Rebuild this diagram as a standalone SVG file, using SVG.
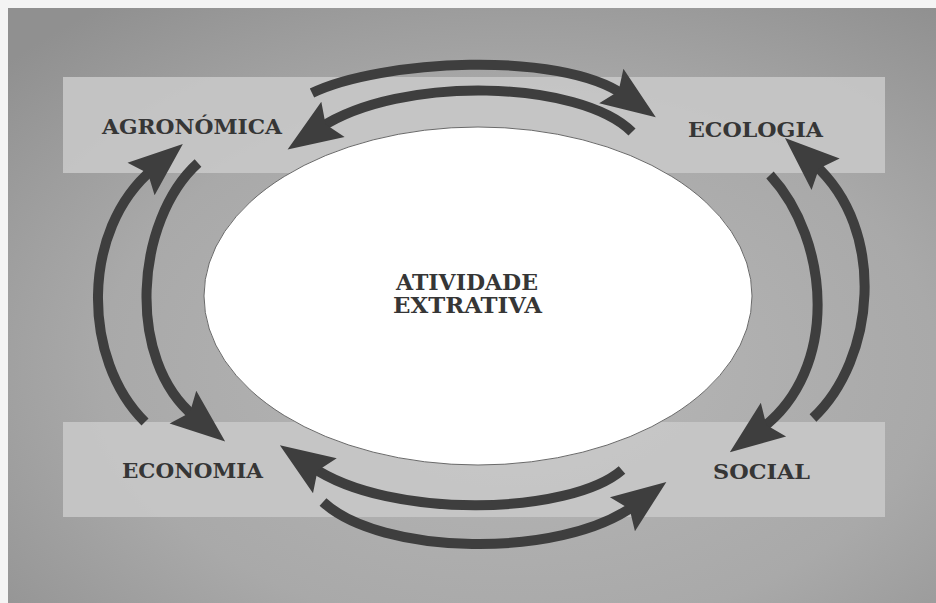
<svg xmlns="http://www.w3.org/2000/svg" width="936" height="603" viewBox="0 0 936 603">
  <defs>
    <radialGradient id="bg" cx="0.55" cy="0.6" r="0.75">
      <stop offset="0" stop-color="#b8b8b8"/>
      <stop offset="0.6" stop-color="#a9a9a9"/>
      <stop offset="1" stop-color="#909090"/>
    </radialGradient>
    <marker id="head" markerUnits="userSpaceOnUse" markerWidth="60" markerHeight="50" viewBox="-16 -22 54 44" refX="0" refY="0" orient="auto">
      <path d="M35,0 L-14,-19 L-6,0 L-14,19 Z" fill="#3e3e3e"/>
    </marker>
  </defs>
  <style>
    .band { fill: #c8c8c8; opacity: 0.9; }
    .lbl { font-family: "DejaVu Serif", "Liberation Serif", serif; font-weight: bold; font-size: 20px; fill: #363636; text-anchor: middle; }
    .ctr { font-family: "DejaVu Serif", "Liberation Serif", serif; font-weight: bold; font-size: 21.5px; fill: #363636; text-anchor: middle; }
    .arr { fill: none; stroke: #3e3e3e; stroke-width: 10; stroke-linecap: butt; marker-end: url(#head); }
  </style>
  <rect x="0" y="0" width="936" height="603" fill="#f4f4f4"/>
  <rect x="8" y="8" width="928" height="595" fill="url(#bg)"/>
  <rect class="band" x="63" y="77" width="822" height="96"/>
  <rect class="band" x="63" y="422" width="822" height="95"/>

  <g id="center">
    <ellipse cx="478" cy="296" rx="274" ry="169" fill="#ffffff" stroke="#6a6a6a" stroke-width="1"/>
    <text class="ctr" x="467" y="290" textLength="142" lengthAdjust="spacingAndGlyphs">ATIVIDADE</text>
    <text class="ctr" x="467.5" y="313" textLength="149" lengthAdjust="spacingAndGlyphs">EXTRATIVA</text>
  </g>
  <g id="agronomica">
    <text class="lbl" x="192" y="134" textLength="180" lengthAdjust="spacingAndGlyphs">AGRONÓMICA</text>
  </g>
  <g id="ecologia">
    <text class="lbl" x="755.5" y="137" textLength="135" lengthAdjust="spacingAndGlyphs">ECOLOGIA</text>
  </g>
  <g id="economia">
    <text class="lbl" x="192.5" y="478" textLength="141" lengthAdjust="spacingAndGlyphs">ECONOMIA</text>
  </g>
  <g id="social">
    <text class="lbl" x="761.5" y="479" textLength="97" lengthAdjust="spacingAndGlyphs">SOCIAL</text>
  </g>

  <g id="connectors">
    <path class="arr" d="M312,93 C380,60 560,50 624,95"/>
    <path class="arr" d="M632,132 C580,80 400,75 320,128"/>
    <path class="arr" d="M145,422 C82,360 80,230 153,169"/>
    <path class="arr" d="M198,163 C135,220 125,360 195,417"/>
    <path class="arr" d="M770,175 C830,240 840,370 761,429"/>
    <path class="arr" d="M813,418 C875,360 888,230 814,164"/>
    <path class="arr" d="M622,470 C570,515 390,520 312,467"/>
    <path class="arr" d="M323,502 C380,555 560,560 635,505"/>
  </g>
</svg>
